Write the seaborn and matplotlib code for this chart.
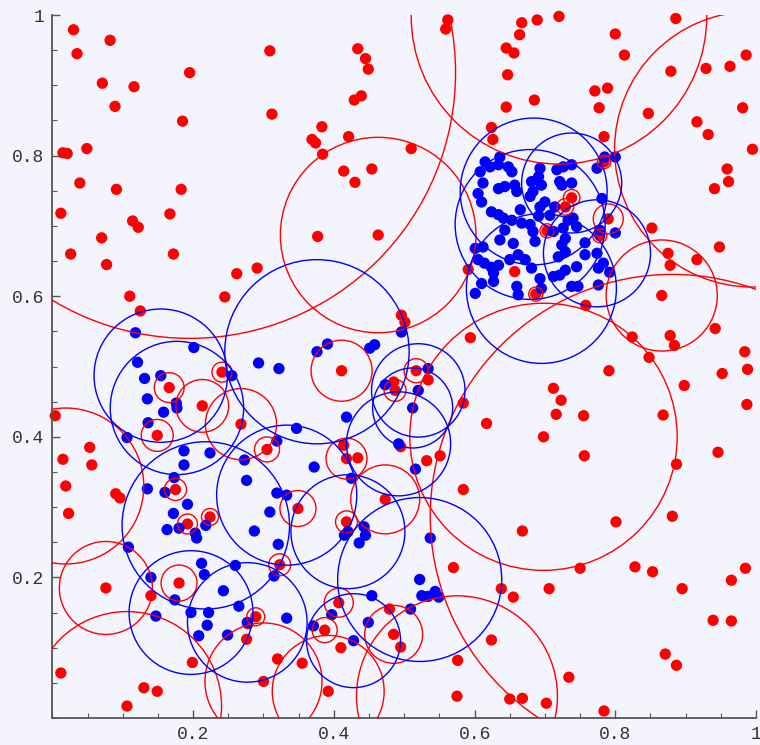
import matplotlib
matplotlib.use("Agg")
import matplotlib.pyplot as plt
from matplotlib.patches import Circle
from matplotlib.ticker import MultipleLocator, FixedLocator
import seaborn as sns
import pandas as pd

# ---- sample points -------------------------------------------------------
red_x = [0.030, 0.082, 0.035, 0.309, 0.195, 0.071, 0.116, 0.089, 0.185, 0.312,
         0.015, 0.021, 0.049, 0.039, 0.091, 0.183, 0.012, 0.167, 0.114, 0.122,
         0.070, 0.026, 0.077, 0.172, 0.110, 0.125, 0.262, 0.291, 0.245, 0.241,
         0.166, 0.213, 0.004, 0.268, 0.149, 0.305, 0.053, 0.015, 0.056,
         0.562, 0.559, 0.667, 0.664, 0.434, 0.445, 0.449, 0.645, 0.656, 0.647,
         0.439, 0.429, 0.645, 0.383, 0.369, 0.374, 0.421, 0.384, 0.510, 0.624,
         0.626, 0.414, 0.454, 0.430, 0.377, 0.463,
         0.720, 0.689, 0.886, 0.800, 0.813, 0.986, 0.879, 0.929, 0.963, 0.771,
         0.789, 0.685, 0.777, 0.847, 0.981, 0.916, 0.932, 0.995, 0.784, 0.959,
         0.961, 0.941, 0.948, 0.784, 0.738, 0.729, 0.703, 0.790, 0.778, 0.852,
         0.657, 0.591, 0.687,
         0.875, 0.878, 0.916, 0.758, 0.866, 0.824, 0.878, 0.884, 0.942, 0.848,
         0.984, 0.988, 0.791, 0.952, 0.712, 0.723, 0.716, 0.755, 0.898, 0.868,
         0.987, 0.698, 0.756, 0.946, 0.887,
         0.496, 0.501, 0.594, 0.411, 0.517, 0.534, 0.485, 0.487, 0.584, 0.617,
         0.495, 0.414, 0.418, 0.434, 0.532, 0.551,
         0.019, 0.090, 0.096, 0.023, 0.175, 0.192, 0.224, 0.076, 0.140, 0.180,
         0.012, 0.130, 0.149, 0.106, 0.199, 0.289, 0.278, 0.276, 0.323, 0.320,
         0.300,
         0.584, 0.473, 0.349, 0.418, 0.668, 0.570, 0.638, 0.655, 0.407, 0.479,
         0.387, 0.485, 0.495, 0.410, 0.355, 0.392, 0.624, 0.576, 0.575, 0.650,
         0.668,
         0.801, 0.881, 0.750, 0.828, 0.853, 0.895, 0.985, 0.965, 0.706, 0.939,
         0.965, 0.871, 0.887, 0.734, 0.702, 0.784]
red_y = [0.979, 0.964, 0.945, 0.949, 0.918, 0.903, 0.898, 0.870, 0.849, 0.859,
         0.804, 0.803, 0.810, 0.761, 0.752, 0.752, 0.718, 0.717, 0.707, 0.698,
         0.683, 0.660, 0.645, 0.660, 0.600, 0.579, 0.632, 0.640, 0.599, 0.492,
         0.470, 0.444, 0.430, 0.418, 0.402, 0.382, 0.385, 0.368, 0.360,
         0.993, 0.980, 0.989, 0.972, 0.952, 0.938, 0.923, 0.953, 0.946, 0.915,
         0.885, 0.879, 0.869, 0.841, 0.823, 0.818, 0.827, 0.802, 0.810, 0.840,
         0.823, 0.778, 0.781, 0.762, 0.685, 0.687,
         0.998, 0.993, 0.995, 0.973, 0.943, 0.943, 0.920, 0.924, 0.927, 0.892,
         0.896, 0.879, 0.868, 0.860, 0.868, 0.848, 0.830, 0.809, 0.827, 0.781,
         0.763, 0.753, 0.670, 0.791, 0.740, 0.727, 0.693, 0.710, 0.686, 0.697,
         0.635, 0.638, 0.603,
         0.661, 0.644, 0.652, 0.587, 0.601, 0.542, 0.544, 0.530, 0.554, 0.513,
         0.521, 0.496, 0.494, 0.490, 0.469, 0.452, 0.432, 0.430, 0.473, 0.431,
         0.446, 0.400, 0.373, 0.378, 0.361,
         0.573, 0.563, 0.541, 0.494, 0.494, 0.481, 0.478, 0.466, 0.448, 0.419,
         0.386, 0.388, 0.369, 0.370, 0.366, 0.373,
         0.330, 0.319, 0.313, 0.291, 0.325, 0.276, 0.286, 0.185, 0.174, 0.192,
         0.064, 0.043, 0.038, 0.017, 0.079, 0.144, 0.134, 0.112, 0.218, 0.084,
         0.052,
         0.325, 0.311, 0.298, 0.279, 0.266, 0.214, 0.184, 0.172, 0.164, 0.155,
         0.125, 0.119, 0.101, 0.100, 0.078, 0.038, 0.111, 0.082, 0.031, 0.027,
         0.028,
         0.279, 0.287, 0.213, 0.215, 0.208, 0.184, 0.213, 0.196, 0.184, 0.139,
         0.138, 0.091, 0.075, 0.058, 0.021, 0.010]

blue_x = [0.615, 0.622, 0.636, 0.634, 0.648, 0.653, 0.608, 0.612, 0.605, 0.610,
          0.634, 0.643, 0.657, 0.660, 0.693, 0.691, 0.681, 0.695, 0.683, 0.679,
          0.700, 0.693, 0.707, 0.714, 0.624, 0.634, 0.641, 0.653, 0.665, 0.667,
          0.679, 0.683, 0.643, 0.636, 0.655, 0.686, 0.601, 0.612, 0.605, 0.614,
          0.624, 0.634, 0.627, 0.650, 0.662, 0.672, 0.681, 0.693, 0.610, 0.601,
          0.627, 0.660, 0.662, 0.695, 0.785, 0.800, 0.774, 0.738, 0.726, 0.717,
          0.721, 0.738, 0.781, 0.740, 0.745, 0.726, 0.712, 0.729, 0.778, 0.800,
          0.757, 0.733, 0.757, 0.774, 0.724, 0.729, 0.719, 0.745, 0.783, 0.776,
          0.729, 0.721, 0.738, 0.747, 0.776, 0.712, 0.792, 0.691, 0.724,
          0.118, 0.201, 0.121, 0.131, 0.154, 0.255, 0.293, 0.322, 0.135, 0.176,
          0.177, 0.158, 0.136, 0.106, 0.319, 0.187, 0.224, 0.187, 0.273, 0.276,
          0.173,
          0.496, 0.376, 0.391, 0.451, 0.458, 0.534, 0.473, 0.520, 0.512, 0.418,
          0.347, 0.492, 0.372, 0.425, 0.516,
          0.135, 0.160, 0.192, 0.172, 0.163, 0.180, 0.203, 0.205, 0.218, 0.319,
          0.333, 0.309, 0.287, 0.321, 0.108, 0.212, 0.216, 0.260, 0.140, 0.243,
          0.174, 0.265, 0.147, 0.197, 0.222, 0.220, 0.208, 0.249, 0.277, 0.315,
          0.333,
          0.415, 0.420, 0.443, 0.445, 0.436, 0.537, 0.522, 0.525, 0.534, 0.544,
          0.549, 0.454, 0.509, 0.397, 0.449, 0.371, 0.428]
blue_y = [0.791, 0.784, 0.798, 0.787, 0.784, 0.777, 0.777, 0.761, 0.746, 0.734,
          0.753, 0.756, 0.758, 0.749, 0.782, 0.770, 0.763, 0.758, 0.749, 0.742,
          0.734, 0.727, 0.715, 0.727, 0.720, 0.716, 0.711, 0.708, 0.723, 0.704,
          0.702, 0.692, 0.694, 0.680, 0.675, 0.678, 0.668, 0.670, 0.652, 0.647,
          0.641, 0.644, 0.633, 0.652, 0.659, 0.652, 0.640, 0.625, 0.618, 0.604,
          0.621, 0.614, 0.602, 0.611, 0.798, 0.798, 0.782, 0.787, 0.784, 0.780,
          0.763, 0.761, 0.739, 0.711, 0.699, 0.697, 0.692, 0.682, 0.694, 0.690,
          0.676, 0.708, 0.659, 0.661, 0.673, 0.663, 0.656, 0.642, 0.647, 0.640,
          0.637, 0.630, 0.614, 0.614, 0.616, 0.628, 0.634, 0.714, 0.758,
          0.548, 0.527, 0.506, 0.483, 0.487, 0.487, 0.505, 0.497, 0.454, 0.448,
          0.441, 0.435, 0.420, 0.399, 0.394, 0.380, 0.377, 0.360, 0.367, 0.338,
          0.342,
          0.549, 0.521, 0.532, 0.526, 0.531, 0.497, 0.474, 0.466, 0.441, 0.428,
          0.412, 0.390, 0.357, 0.341, 0.354,
          0.326, 0.321, 0.304, 0.291, 0.268, 0.270, 0.263, 0.256, 0.274, 0.320,
          0.317, 0.293, 0.266, 0.247, 0.243, 0.220, 0.204, 0.217, 0.200, 0.181,
          0.168, 0.159, 0.145, 0.150, 0.150, 0.132, 0.117, 0.118, 0.136, 0.202,
          0.142,
          0.260, 0.265, 0.272, 0.260, 0.249, 0.256, 0.197, 0.174, 0.173, 0.180,
          0.172, 0.174, 0.155, 0.147, 0.136, 0.131, 0.110]

# ---- class disks: centre and radius ---------------------------------------
red_cx = [0.720, 0.241, 0.166, 0.213, 0.268, 0.149, 0.305, 0.175, 0.192, 0.224,
          0.180, 0.289, 0.323, 0.349, 0.418, 0.407, 0.387, 0.485, 0.473, 0.411,
          0.517, 0.487, 0.418, 0.076, 0.106, 0.019, 0.300, 0.195, 0.463, 0.866,
          0.784, 0.738, 0.729, 0.703, 0.790, 0.778, 0.687,
          0.698, 0.881, 0.575, 0.995, 0.392]
red_cy = [0.998, 0.492, 0.470, 0.444, 0.418, 0.402, 0.382, 0.325, 0.276, 0.286,
          0.192, 0.144, 0.218, 0.298, 0.279, 0.164, 0.125, 0.119, 0.311, 0.494,
          0.494, 0.466, 0.369, 0.185, 0.017, 0.330, 0.052, 0.918, 0.687, 0.601,
          0.791, 0.740, 0.727, 0.693, 0.710, 0.686, 0.603,
          0.400, 0.287, 0.031, 0.809, 0.038]
red_r = [0.210, 0.0142, 0.0212, 0.0375, 0.0506, 0.0227, 0.0178, 0.0156, 0.0142, 0.0121,
         0.0256, 0.0128, 0.0156, 0.0256, 0.0156, 0.0206, 0.0178, 0.0412, 0.049, 0.0434,
         0.0171, 0.0156, 0.0291, 0.0661, 0.1344, 0.1109, 0.0832, 0.378, 0.139, 0.079,
         0.0095, 0.0118, 0.0118, 0.010, 0.0213, 0.010, 0.010,
         0.190, 0.344, 0.1428, 0.196, 0.0795]

blue_cx = [0.154, 0.177, 0.376, 0.218, 0.197, 0.277, 0.333, 0.520, 0.512, 0.492,
           0.522, 0.428, 0.684, 0.738, 0.695, 0.774, 0.679, 0.420]
blue_cy = [0.487, 0.441, 0.521, 0.274, 0.150, 0.136, 0.317, 0.466, 0.441, 0.390,
           0.197, 0.110, 0.749, 0.761, 0.611, 0.661, 0.702, 0.265]
blue_r = [0.0948, 0.0948, 0.131, 0.119, 0.088, 0.085, 0.0996, 0.0664, 0.0569, 0.074,
          0.1166, 0.0668, 0.1044, 0.0711, 0.1066, 0.0761, 0.1066, 0.081]

RED = "#ff0000"
BLUE = "#0000ff"
BG = "#f4f4fc"

pts = pd.concat([
    pd.DataFrame({"x": red_x, "y": red_y, "cls": "red"}),
    pd.DataFrame({"x": blue_x, "y": blue_y, "cls": "blue"}),
], ignore_index=True)

sns.set_style("ticks")
plt.rcParams["font.family"] = ["Liberation Mono", "DejaVu Sans Mono"]

fig = plt.figure(figsize=(7.6, 7.45), dpi=100, facecolor=BG)
ax = fig.add_axes([52.4 / 760, 27 / 745, 703.6 / 760, 703 / 745])
ax.set_facecolor(BG)

sns.scatterplot(data=pts, x="x", y="y", hue="cls",
                palette={"red": RED, "blue": BLUE}, s=66, linewidth=0,
                legend=False, ax=ax, clip_on=False, zorder=2)

for cx, cy, r in zip(red_cx, red_cy, red_r):
    ax.add_patch(Circle((cx, cy), r, fill=False, ec=RED, lw=1.0, zorder=3))
for cx, cy, r in zip(blue_cx, blue_cy, blue_r):
    ax.add_patch(Circle((cx, cy), r, fill=False, ec=BLUE, lw=1.0, zorder=3))

ax.set_xlim(0, 1)
ax.set_ylim(0, 1)
ax.set_xlabel("")
ax.set_ylabel("")

for side in ("top", "right"):
    ax.spines[side].set_visible(False)
for side in ("left", "bottom"):
    ax.spines[side].set_color("#555555")
    ax.spines[side].set_linewidth(1.3)

ticks = [0.2, 0.4, 0.6, 0.8, 1.0]
labels = ["0.2", "0.4", "0.6", "0.8", "1"]
ax.xaxis.set_major_locator(FixedLocator(ticks))
ax.yaxis.set_major_locator(FixedLocator(ticks))
ax.set_xticklabels(labels)
ax.set_yticklabels(labels)
ax.xaxis.set_minor_locator(MultipleLocator(0.05))
ax.yaxis.set_minor_locator(MultipleLocator(0.05))
ax.tick_params(which="major", direction="in", length=6, width=1.0,
               color="#555555", labelsize=13, labelcolor="#333333", pad=6)
ax.tick_params(which="minor", direction="in", length=3.5, width=0.8,
               color="#555555")

fig.savefig("out.png", dpi=100, facecolor=BG)
